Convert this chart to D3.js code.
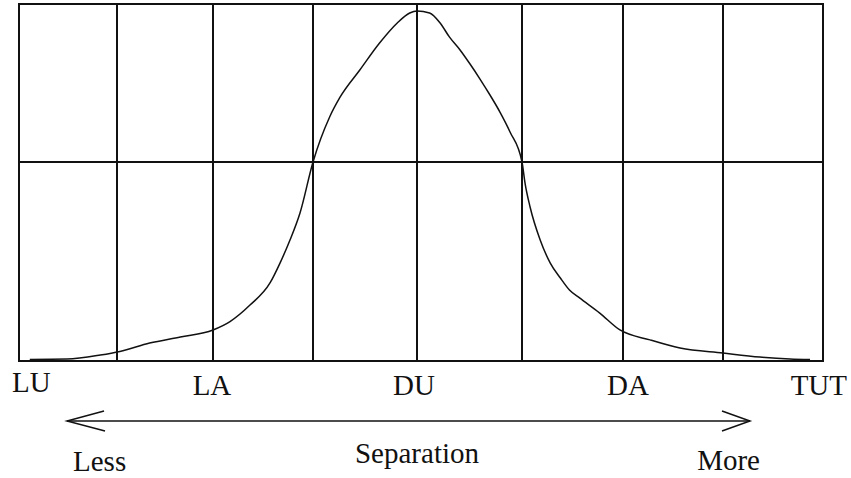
<!DOCTYPE html>
<html>
<head>
<meta charset="utf-8">
<script src="https://cdn.jsdelivr.net/npm/d3@7"></script>
<style>
    body { margin: 0; background: #fff; }
    text { font-family: "Liberation Serif", "Times New Roman", serif; fill: #111; }
</style>
</head>
<body>
<svg id="Chart"></svg>
<script>
    // positions along the separation axis (0 = LU ... 8 = TUT)
    let categories = ["LU", "LA", "DU", "DA", "TUT"];
    let categoryPos = [0, 2, 4, 6, 8];
    let gridCols = [0, 1, 2, 3, 4, 5, 6, 7, 8];
    let gridRows = [0, 1, 2];

    // curve: x in axis units, y in row units (0..2)
    let curveX = [0.11, 0.49, 0.83, 1.03, 1.34, 1.66, 2.0, 2.17, 2.37, 2.57, 2.67, 2.77, 2.87, 3.0,
        3.16, 3.26, 3.45, 3.64, 3.81, 3.93, 4.0, 4.12, 4.22, 4.31, 4.41, 4.505, 4.6, 4.695, 4.79, 4.886, 5.0,
        5.03, 5.08, 5.18, 5.28, 5.38, 5.47, 5.57, 5.77, 5.97, 6.27, 6.57, 7.0, 7.37, 7.67, 7.87];
    let curveY = [0.008, 0.010, 0.030, 0.048, 0.090, 0.121, 0.156, 0.198, 0.281, 0.392, 0.492, 0.608, 0.744, 1.0,
        1.285, 1.41, 1.582, 1.753, 1.88, 1.943, 1.956, 1.943, 1.88, 1.79, 1.709, 1.62, 1.525, 1.424, 1.316, 1.19, 1.0,
        0.894, 0.774, 0.608, 0.492, 0.417, 0.357, 0.317, 0.241, 0.156, 0.106, 0.065, 0.040, 0.020, 0.010, 0.007];

    let arrowLabels = ["Less", "Separation", "More"];

    function getConfig() {
        let width = 851;
        let height = 478;
        let container = d3.select("#Chart")
            .attr("width", width)
            .attr("height", height)
        return {width, height, container}
    }

    function getScales() {
        // the grid in the picture is slightly uneven, so each column gets its own stop
        let xScale = d3.scaleLinear()
            .domain(gridCols)
            .range([19, 117, 213, 313, 417, 522, 623, 723, 823])
        let yScale = d3.scaleLinear()
            .domain(gridRows)
            .range([361, 162, 4])
        return {xScale, yScale}
    }

    function drawGrid(config, scales) {
        let {container} = config;
        let {xScale, yScale} = scales;
        let grid = container.append("g")
            .attr("stroke", "#111")
            .attr("stroke-width", 2)

        grid.selectAll(".col")
            .data(gridCols)
            .enter()
            .append("line")
            .attr("x1", d => xScale(d))
            .attr("x2", d => xScale(d))
            .attr("y1", yScale(0))
            .attr("y2", yScale(2))

        grid.selectAll(".row")
            .data(gridRows)
            .enter()
            .append("line")
            .attr("x1", xScale(0) - 1)
            .attr("x2", xScale(8) + 1)
            .attr("y1", d => yScale(d))
            .attr("y2", d => yScale(d))
    }

    function drawCurve(config, scales) {
        let {container} = config;
        let {xScale, yScale} = scales;
        let points = curveX.map((x, i) => [x, curveY[i]])
        let line = d3.line()
            .x(d => xScale(d[0]))
            .y(d => yScale(d[1]))
            .curve(d3.curveMonotoneX)
        container.append("path")
            .attr("d", line(points))
            .attr("fill", "none")
            .attr("stroke", "#111")
            .attr("stroke-width", 1.5)
    }

    function drawLabels(config, scales) {
        let {container} = config;
        let {xScale} = scales;
        // LU and TUT sit inside the box edges
        let anchors = ["start", "middle", "middle", "middle", "end"];
        let shift = [-7, -1, -3, 5, 24];
        container.selectAll(".cat")
            .data(categories)
            .enter()
            .append("text")
            .attr("x", (d, i) => xScale(categoryPos[i]) + shift[i])
            .attr("y", (d, i) => i == 0 ? 392 : 395)
            .attr("text-anchor", (d, i) => anchors[i])
            .style("font-size", "29px")
            .text(d => d)
    }

    function drawArrow(config, scales) {
        let {container} = config;
        let {xScale} = scales;
        let y = 421;
        let left = xScale(0.49);
        let right = xScale(7.27);
        let g = container.append("g")
            .attr("stroke", "#111")
            .attr("stroke-width", 1.5)
            .attr("fill", "none")
        g.append("line")
            .attr("x1", left).attr("x2", right)
            .attr("y1", y).attr("y2", y)
        g.append("path")
            .attr("d", `M${left + 37},${y - 10}L${left},${y}L${left + 38},${y + 10}`)
        g.append("path")
            .attr("d", `M${right - 28},${y - 10}L${right},${y}L${right - 28},${y + 10}`)

        let pos = [[left + 6, 471, "start"], [xScale(4), 463, "middle"], [right + 10, 470, "end"]];
        container.selectAll(".arrowLabel")
            .data(arrowLabels)
            .enter()
            .append("text")
            .attr("x", (d, i) => pos[i][0])
            .attr("y", (d, i) => pos[i][1])
            .attr("text-anchor", (d, i) => pos[i][2])
            .style("font-size", "29px")
            .text(d => d)
    }

    let config = getConfig();
    let scales = getScales();
    drawGrid(config, scales);
    drawCurve(config, scales);
    drawLabels(config, scales);
    drawArrow(config, scales);
</script>
</body>
</html>
